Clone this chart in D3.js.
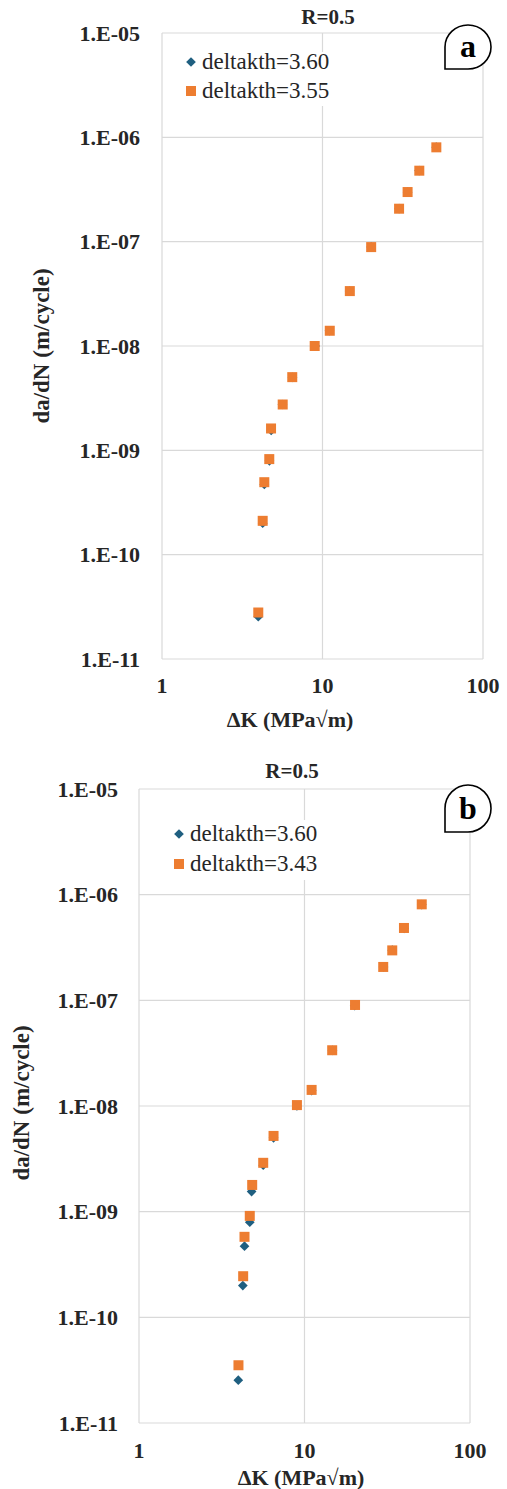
<!DOCTYPE html>
<html>
<head>
<meta charset="utf-8">
<script src="https://cdn.jsdelivr.net/npm/d3@7"></script>
<style>
  html, body { margin: 0; padding: 0; background: #fff; }
  svg { display: block; }
  text { font-family: "Liberation Serif", "Times New Roman", Times, "DejaVu Serif", serif; }
</style>
</head>
<body>
<svg id="chart" width="507" height="1489"></svg>
<script>
// ---------------- data ----------------
const panelLabels = ["a", "b"];
const chartTitles = ["R=0.5", "R=0.5"];
const seriesNamesA = ["deltakth=3.60", "deltakth=3.55"];
const seriesNamesB = ["deltakth=3.60", "deltakth=3.43"];
const xTickValues = [1, 10, 100];
const xTickLabels = ["1", "10", "100"];
const yTickValues = [1e-5, 1e-6, 1e-7, 1e-8, 1e-9, 1e-10, 1e-11];
const yTickLabels = ["1.E-05", "1.E-06", "1.E-07", "1.E-08", "1.E-09", "1.E-10", "1.E-11"];
const xAxisTitle = "ΔK (MPa√m)";
const yAxisTitle = "da/dN (m/cycle)";

// deltaK (MPa√m)
const dK_360 = [3.98, 4.24, 4.34, 4.67, 4.79, 5.63, 6.50, 9.00, 11.05, 14.75, 20.1, 30.0, 33.9, 40.0, 51.1];
const dadN_360 = [2.54e-11, 2.0e-10, 4.71e-10, 7.94e-10, 1.55e-9, 2.75e-9, 5.0e-9, 1.0e-8, 1.4e-8, 3.36e-8, 8.9e-8, 2.07e-7, 2.98e-7, 4.8e-7, 8.05e-7];

const dK_355 = [3.98, 4.24, 4.34, 4.66, 4.78, 5.65, 6.48, 8.94, 11.1, 14.8, 20.1, 30.0, 33.9, 40.1, 51.2];
const dadN_355 = [2.79e-11, 2.11e-10, 4.95e-10, 8.24e-10, 1.62e-9, 2.75e-9, 5.03e-9, 1.0e-8, 1.40e-8, 3.36e-8, 8.87e-8, 2.07e-7, 2.99e-7, 4.79e-7, 8.02e-7];

const dK_343 = [3.99, 4.26, 4.34, 4.67, 4.83, 5.63, 6.50, 9.00, 11.04, 14.7, 20.2, 29.9, 33.9, 39.9, 51.1];
const dadN_343 = [3.52e-11, 2.45e-10, 5.78e-10, 9.12e-10, 1.79e-9, 2.90e-9, 5.21e-9, 1.02e-8, 1.42e-8, 3.37e-8, 9.04e-8, 2.07e-7, 2.97e-7, 4.84e-7, 8.1e-7];

// ---------------- layout ----------------
const BLUE = "#1f5f80";
const ORANGE = "#ed7d31";
const GRID = "#d9d9d9";

const panels = [
  {
    label: panelLabels[0], title: chartTitles[0], names: seriesNamesA,
    series: [
      { x: dK_360, y: dadN_360, shape: "diamond", color: BLUE },
      { x: dK_355, y: dadN_355, shape: "square", color: ORANGE }
    ],
    L: 162, R: 483, T: 33, B: 659,
    titleX: 328, titleY: 24,
    xTitleX: 290, xTitleY: 727,
    yTitleX: 49, yTitleY: 346,
    xTickY: 693, yTickRight: 140,
    badge: { cx: 468, top: 25, bottom: 69, left: 445, right: 491 },
    legend: { mx: 191, y1: 62, y2: 91, tx: 202, bx: 178, by: 52, bw: 160, bh: 54 }
  },
  {
    label: panelLabels[1], title: chartTitles[1], names: seriesNamesB,
    series: [
      { x: dK_360, y: dadN_360, shape: "diamond", color: BLUE },
      { x: dK_343, y: dadN_343, shape: "square", color: ORANGE }
    ],
    L: 139, R: 470, T: 789, B: 1423,
    titleX: 292, titleY: 778,
    xTitleX: 301, xTitleY: 1485,
    yTitleX: 29, yTitleY: 1103,
    xTickY: 1458, yTickRight: 118,
    badge: { cx: 468, top: 785, bottom: 832, left: 445, right: 491 },
    legend: { mx: 179, y1: 834, y2: 864, tx: 190, bx: 168, by: 820, bw: 158, bh: 60 }
  }
];

const svg = d3.select("#chart");

const diamondPath = d3.symbol().type(d3.symbolDiamond2).size(60);

function drawMarker(g, shape, color, cx, cy) {
  if (shape === "square") {
    g.append("rect")
      .attr("x", cx - 5).attr("y", cy - 5)
      .attr("width", 10).attr("height", 10)
      .attr("fill", color);
  } else {
    g.append("path")
      .attr("d", diamondPath())
      .attr("transform", `translate(${cx},${cy})`)
      .attr("fill", color);
  }
}

panels.forEach(p => {
  const g = svg.append("g");
  const x = d3.scaleLog().domain([1, 100]).range([p.L, p.R]);
  const y = d3.scaleLog().domain([1e-11, 1e-5]).range([p.B, p.T]);

  // gridlines
  g.append("g").selectAll("line.h").data(yTickValues).join("line")
    .attr("x1", p.L).attr("x2", p.R)
    .attr("y1", d => y(d)).attr("y2", d => y(d))
    .attr("stroke", GRID).attr("stroke-width", 1.2);
  g.append("g").selectAll("line.v").data(xTickValues).join("line")
    .attr("y1", p.T).attr("y2", p.B)
    .attr("x1", d => x(d)).attr("x2", d => x(d))
    .attr("stroke", GRID).attr("stroke-width", 1.2);

  // y tick labels
  g.append("g").selectAll("text").data(yTickValues).join("text")
    .attr("x", p.yTickRight)
    .attr("y", d => y(d) + 7.5)
    .attr("text-anchor", "end")
    .attr("font-weight", "bold").attr("font-size", 22)
    .attr("fill", "#262626")
    .text((d, i) => yTickLabels[i]);

  // x tick labels
  g.append("g").selectAll("text").data(xTickValues).join("text")
    .attr("x", d => x(d))
    .attr("y", p.xTickY)
    .attr("text-anchor", "middle")
    .attr("font-weight", "bold").attr("font-size", 22)
    .attr("fill", "#262626")
    .text((d, i) => xTickLabels[i]);

  // axis titles
  g.append("text")
    .attr("x", p.xTitleX).attr("y", p.xTitleY)
    .attr("text-anchor", "middle")
    .attr("font-weight", "bold").attr("font-size", 22)
    .attr("fill", "#262626")
    .text(xAxisTitle);
  g.append("text")
    .attr("transform", `translate(${p.yTitleX},${p.yTitleY}) rotate(-90)`)
    .attr("text-anchor", "middle")
    .attr("font-weight", "bold").attr("font-size", 23)
    .attr("fill", "#262626")
    .text(yAxisTitle);

  // chart title
  g.append("text")
    .attr("x", p.titleX).attr("y", p.titleY)
    .attr("text-anchor", "middle")
    .attr("font-weight", "bold").attr("font-size", 21)
    .attr("fill", "#262626")
    .text(p.title);

  // legend (white box hides gridlines)
  const lg = g.append("g");
  lg.append("rect")
    .attr("x", p.legend.bx).attr("y", p.legend.by)
    .attr("width", p.legend.bw).attr("height", p.legend.bh)
    .attr("fill", "#fff");
  [p.legend.y1, p.legend.y2].forEach((ly, i) => {
    const s = p.series[i];
    drawMarker(lg, s.shape, s.color, p.legend.mx, ly);
    lg.append("text")
      .attr("x", p.legend.tx).attr("y", ly + 7)
      .attr("font-size", 23)
      .attr("fill", "#262626")
      .text(p.names[i]);
  });

  // data points
  p.series.forEach(s => {
    const sg = g.append("g");
    s.x.forEach((xv, i) => drawMarker(sg, s.shape, s.color, x(xv), y(s.y[i])));
  });

  // panel badge
  const b = p.badge;
  const rx = (b.right - b.left) / 2, ry = (b.bottom - b.top) / 2;
  const cy = (b.top + b.bottom) / 2;
  g.append("path")
    .attr("d", `M${b.left},${b.bottom} L${b.left},${cy} A${rx},${ry} 0 0 1 ${b.cx},${b.top} A${rx},${ry} 0 0 1 ${b.right},${cy} A${rx},${ry} 0 0 1 ${b.cx},${b.bottom} Z`)
    .attr("fill", "#fff").attr("stroke", "#000").attr("stroke-width", 1.6);
  g.append("text")
    .attr("x", b.cx).attr("y", cy + 10)
    .attr("text-anchor", "middle")
    .attr("font-weight", "bold").attr("font-size", 32)
    .attr("fill", "#000")
    .text(p.label);
});
</script>
</body>
</html>
